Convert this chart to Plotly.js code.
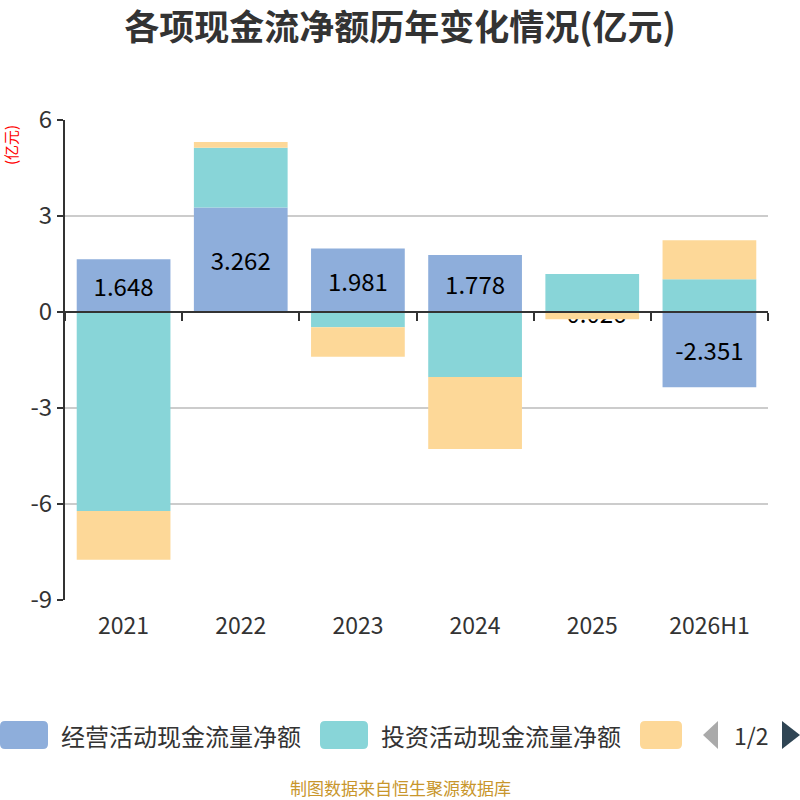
<!DOCTYPE html>
<html>
<head>
<meta charset="utf-8">
<script src="https://cdn.plot.ly/plotly-3.0.1.min.js"></script>
<style>
  body { margin: 0; background: #fff; }
  #chart { width: 800px; height: 800px; }
</style>
</head>
<body>
<div id="chart"></div>
<script>
// data (亿元)
var years = ['2021', '2022', '2023', '2024', '2025', '2026H1'];
var opValues = [1.648, 3.262, 1.981, 1.778, -0.026, -2.351];
var invValues = [-6.22, 1.87, -0.48, -2.03, 1.19, 1.02];
var finValues = [-1.52, 0.18, -0.92, -2.25, -0.2, 1.22];
var seriesNames = ['经营活动现金流量净额', '投资活动现金流量净额', '筹资活动现金流量净额'];
var seriesColors = ['#8eaedb', '#88d5d8', '#fdd898'];
var yTickVals = [-9, -6, -3, 0, 3, 6];
var yTickText = ['-9', '-6', '-3', '0', '3', '6'];

var FONT = '"Noto Sans CJK SC", "Noto Sans", sans-serif';

// plot area in pixels: left 65, right 768, top 120, bottom 600
var PL = 65, PR = 768, PT = 120, PB = 600;
function px(x) { return (x - PL) / (PR - PL); }
function py(y) { return (PB - y) / (PB - PT); }

function CreateBarTrace(values, idx) {
  return {
    type: 'bar',
    x: years,
    y: values,
    name: seriesNames[idx],
    marker: { color: seriesColors[idx], line: { width: 0 } },
    hovertemplate: seriesNames[idx] + ': %{y}<extra></extra>',
    showlegend: false
  };
}

var traces = [
  CreateBarTrace(opValues, 0),
  CreateBarTrace(invValues, 1),
  CreateBarTrace(finValues, 2)
];
traces[0].text = opValues.map(function (v) { return v.toFixed(3); });
traces[0].textposition = 'inside';
traces[0].insidetextanchor = 'middle';
traces[0].textangle = 0;
traces[0].textfont = { size: 24, color: '#000', family: FONT };

// helper trace so the zero-line axis gets its categories
traces.push({
  type: 'scatter', x: years, y: years.map(function () { return 0; }),
  xaxis: 'x2', mode: 'none', showlegend: false, hoverinfo: 'skip'
});

// rounded swatch path in pixels, centred vertically on 0
function rrect(x0, x1, h, r) {
  var t = h / 2, b = -h / 2;
  return 'M' + (x0 + r) + ',' + t + ' L' + (x1 - r) + ',' + t +
    ' Q' + x1 + ',' + t + ' ' + x1 + ',' + (t - r) +
    ' L' + x1 + ',' + (b + r) + ' Q' + x1 + ',' + b + ' ' + (x1 - r) + ',' + b +
    ' L' + (x0 + r) + ',' + b + ' Q' + x0 + ',' + b + ' ' + x0 + ',' + (b + r) +
    ' L' + x0 + ',' + (t - r) + ' Q' + x0 + ',' + t + ' ' + (x0 + r) + ',' + t + ' Z';
}

var legendY = 735;
var swatchX = [0, 320, 640];
var swatchW = [48, 48, 42];
var shapes = [];
var annotations = [];
for (var i = 0; i < 3; i++) {
  shapes.push({
    type: 'path', xref: 'paper', yref: 'paper',
    xsizemode: 'pixel', ysizemode: 'pixel',
    xanchor: px(0), yanchor: py(legendY),
    path: rrect(swatchX[i], swatchX[i] + swatchW[i], 28, 5),
    fillcolor: seriesColors[i], line: { width: 0 }
  });
}
[0, 1].forEach(function (i) {
  annotations.push({
    xref: 'paper', yref: 'paper', x: px(swatchX[i] + 59), y: py(legendY),
    xanchor: 'left', yanchor: 'middle', showarrow: false,
    text: seriesNames[i], font: { size: 24, color: '#333', family: FONT }
  });
});

// legend pager
shapes.push({
  type: 'path', xref: 'paper', yref: 'paper', xsizemode: 'pixel', ysizemode: 'pixel',
  xanchor: px(0), yanchor: py(legendY),
  path: 'M703,0 L718,14 L718,-14 Z', fillcolor: '#aaaaaa', line: { width: 0 }
});
shapes.push({
  type: 'path', xref: 'paper', yref: 'paper', xsizemode: 'pixel', ysizemode: 'pixel',
  xanchor: px(0), yanchor: py(legendY),
  path: 'M782,14 L800,0 L782,-14 Z', fillcolor: '#2f4554', line: { width: 0 }
});
annotations.push({
  xref: 'paper', yref: 'paper', x: px(751), y: py(legendY),
  xanchor: 'center', yanchor: 'middle', showarrow: false,
  text: '1/2', font: { size: 23, color: '#333', family: FONT }
});

// unit label and source
annotations.push({
  xref: 'paper', yref: 'paper', x: px(10), y: py(145),
  xanchor: 'center', yanchor: 'middle', showarrow: false, textangle: -90,
  text: '(亿元)', font: { size: 15, color: '#ff0000', family: FONT }
});
annotations.push({
  xref: 'paper', yref: 'paper', x: px(400), y: py(787),
  xanchor: 'center', yanchor: 'middle', showarrow: false,
  text: '制图数据来自恒生聚源数据库', font: { size: 17, color: '#c8962c', family: FONT }
});

var layout = {
  width: 800,
  height: 800,
  paper_bgcolor: '#fff',
  plot_bgcolor: '#fff',
  margin: { l: PL, r: 800 - PR, t: PT, b: 800 - PB, pad: 0 },
  font: { family: FONT, color: '#333' },
  title: {
    text: '各项现金流净额历年变化情况(亿元)',
    font: { size: 35, color: '#333', family: FONT, weight: 'bold' },
    x: 0.5, xanchor: 'center', xref: 'container',
    y: 1 - 28 / 800, yanchor: 'middle', yref: 'container'
  },
  barmode: 'relative',
  bargap: 0.2,
  uniformtext: { mode: 'show', minsize: 24 },
  showlegend: false,
  xaxis: {
    type: 'category',
    categoryarray: years,
    range: [-0.5, 5.5],
    showline: false,
    showgrid: false,
    zeroline: false,
    ticks: '',
    ticklabelstandoff: 10,
    tickfont: { size: 23, color: '#333', family: FONT }
  },
  xaxis2: {
    type: 'category',
    categoryarray: years,
    overlaying: 'x',
    anchor: 'free',
    position: py(312),
    range: [-0.5, 5.5],
    showline: true,
    linecolor: '#333',
    linewidth: 2,
    ticks: 'outside',
    tickson: 'boundaries',
    ticklen: 8,
    tickwidth: 2,
    tickcolor: '#333',
    showticklabels: false,
    showgrid: false,
    zeroline: false
  },
  yaxis: {
    range: [-9, 6],
    tickvals: yTickVals,
    ticktext: yTickText,
    showline: true,
    linecolor: '#333',
    linewidth: 2,
    ticks: 'outside',
    ticklen: 6,
    tickwidth: 2,
    tickcolor: '#333',
    gridcolor: '#cccccc',
    gridwidth: 1.5,
    zeroline: false,
    tickfont: { size: 24, color: '#333', family: FONT }
  },
  shapes: shapes,
  annotations: annotations
};

Plotly.newPlot('chart', traces, layout, { displayModeBar: false, staticPlot: true });
</script>
</body>
</html>
